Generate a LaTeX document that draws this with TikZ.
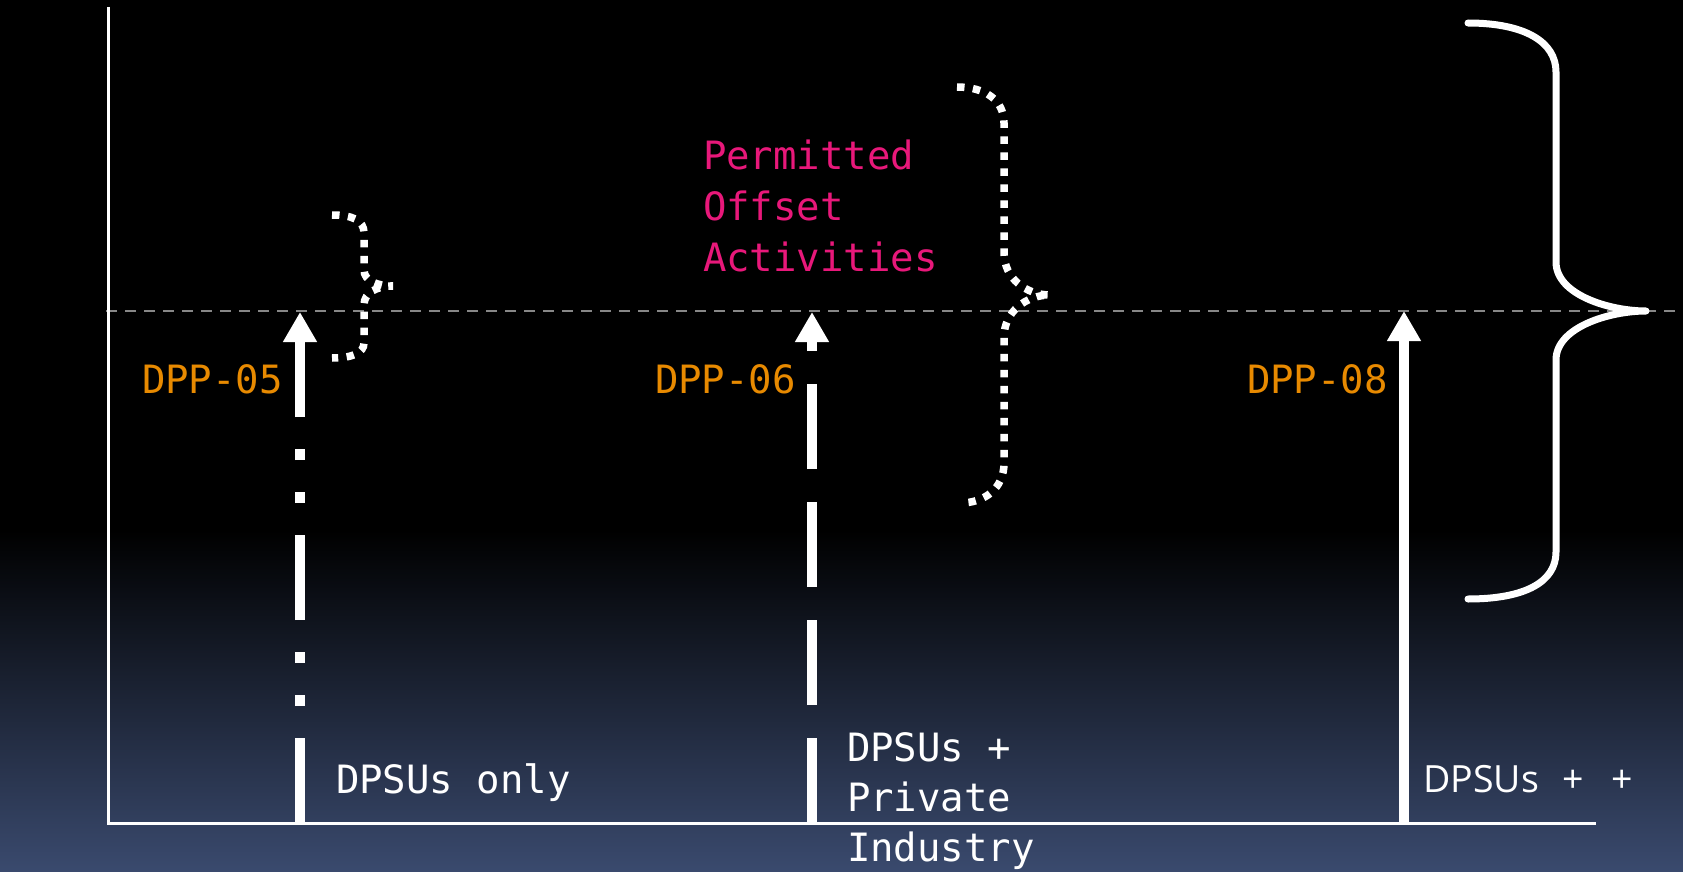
\documentclass[tikz,border=0pt]{standalone}
\usepackage{fontspec}
\usetikzlibrary{arrows.meta}
\newfontfamily\monofont{DejaVu Sans Mono}
\newfontfamily\labelsans{Open Sans}
\definecolor{bgblue}{RGB}{58,74,110}
\definecolor{dppor}{RGB}{232,138,0}
\definecolor{offsetpink}{RGB}{232,24,122}
\definecolor{refgray}{RGB}{135,135,135}

\begin{document}
\begin{tikzpicture}[x=1pt,y=-1pt,
  axisline/.style={white, line width=3pt, line join=miter},
  refline/.style={refgray, line width=2.5pt, dash pattern=on 10.5pt off 8.5pt},
  policyarrow/.style={white, line width=10pt, line cap=butt,
    -{Triangle[width=32pt,length=30pt]}},
  dotbrace/.style={white, line width=7.5pt, line cap=butt, dash pattern=on 7.5pt off 8.5pt},
  solidbrace/.style={white, line width=7pt, line cap=round, line join=round},
  dpplabel/.style={anchor=base west, inner sep=0pt, outer sep=0pt, text=dppor,
    font=\monofont\fontsize{39pt}{51pt}\selectfont},
  whitelabel/.style={anchor=base west, inner sep=0pt, outer sep=0pt, text=white,
    align=left, font=\monofont\fontsize{39pt}{50pt}\selectfont},
  pinklabel/.style={anchor=base west, inner sep=0pt, outer sep=0pt, text=offsetpink,
    align=left, font=\monofont\fontsize{39pt}{51pt}\selectfont}
]
\useasboundingbox (0,0) rectangle (1683,872);

% background: black fading into slate blue at the bottom
\fill[black] (0,0) rectangle (1683,872);
\shade[top color=black, bottom color=bgblue] (0,530) rectangle (1683,872);

% reference level
\draw[refline] (106,311) -- (1675,311);

% axes
\coordinate (ytop) at (108,7);
\coordinate (origin) at (108,823);
\coordinate (xend) at (1596,823);
\draw[axisline] (ytop) -- (origin) -- (xend);

% policy arrows
\coordinate (b05) at (300,823); \coordinate (t05) at (300,312);
\coordinate (b06) at (812,823); \coordinate (t06) at (812,312);
\coordinate (b08) at (1404,823); \coordinate (t08) at (1404,311);
\draw[policyarrow, dash pattern=on 85pt off 32pt on 11pt off 32pt on 11pt off 32pt] (b05) -- (t05);
\draw[policyarrow, dash pattern=on 85pt off 33pt] (b06) -- (t06);
\draw[policyarrow] (b08) -- (t08);

% braces
\draw[dotbrace] (332,215) .. controls (352,215) and (364,220) .. (364,233)
  -- (364,270) .. controls (364,281) and (378,286) .. (393,286)
  .. controls (378,286) and (364,292) .. (364,305)
  -- (364,343) .. controls (364,353) and (352,358) .. (332,358);
\draw[dotbrace] (957,87) .. controls (985,87) and (1004,100) .. (1004,123)
  -- (1004,253) .. controls (1004,278) and (1026,295) .. (1050,295)
  .. controls (1026,295) and (1004,312) .. (1004,337)
  -- (1004,463) .. controls (1004,488) and (985,503) .. (960,503);
\draw[solidbrace] (1468,23) .. controls (1525,23) and (1556,42) .. (1556,72)
  -- (1556,262) .. controls (1556,295) and (1610,311) .. (1646,311)
  .. controls (1610,311) and (1556,327) .. (1556,360)
  -- (1556,552) .. controls (1556,582) and (1525,599) .. (1468,599);

% labels (multi-line nodes are anchored at the baseline of their last line)
\node[dpplabel] (l05) at (142,393) {DPP-05};
\node[dpplabel] (l06) at (655,393) {DPP-06};
\node[dpplabel] (l08) at (1247,393) {DPP-08};
\node[pinklabel] (poa) at (703,271) {Permitted\\Offset\\Activities};
\node[whitelabel] (s05) at (336,793) {DPSUs only};
\node[whitelabel] (s06) at (847,861) {DPSUs +\\Private\\Industry};
\node[anchor=base west, inner sep=0pt, text=white,
  font=\labelsans\fontsize{37.5pt}{44pt}\selectfont] (s08) at (1423,792)
  {DPSUs\hspace{24pt}+\hspace{27pt}+};
\end{tikzpicture}
\end{document}
